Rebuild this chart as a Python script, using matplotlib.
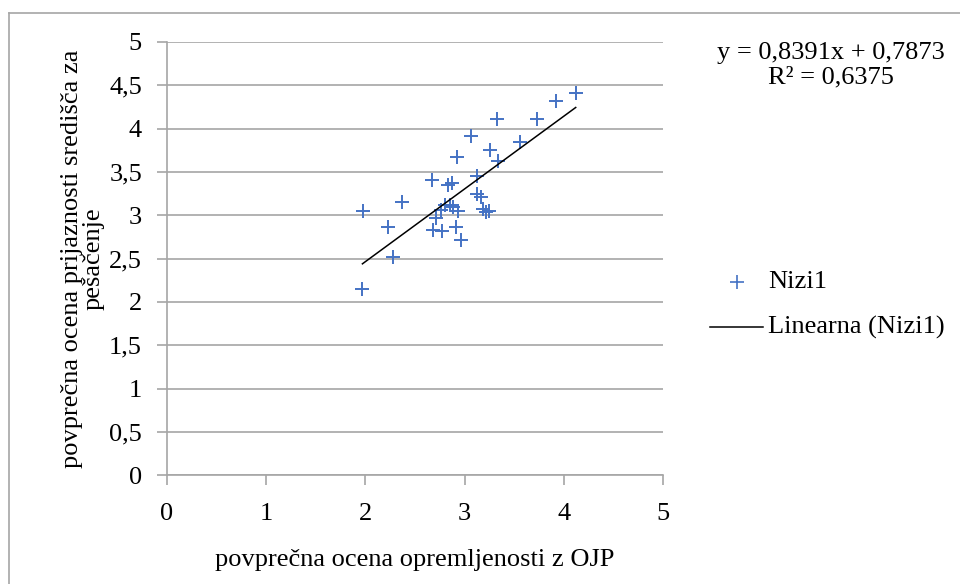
import matplotlib
matplotlib.use("Agg")
import matplotlib.pyplot as plt
import matplotlib.lines as mlines
import numpy as np

# values
ojp = [1.97, 1.98, 2.23, 2.28, 2.37, 2.67, 2.68, 2.71, 2.76, 2.77, 2.80,
       2.83, 2.85, 2.87, 2.88, 2.91, 2.92, 2.93, 2.96, 3.06, 3.13, 3.13,
       3.17, 3.19, 3.22, 3.25, 3.26, 3.33, 3.34, 3.56, 3.73, 3.92, 4.12]
ocena = [2.15, 3.05, 2.86, 2.52, 3.15, 3.41, 2.83, 2.97, 3.06, 2.82, 3.12,
         3.35, 3.12, 3.37, 3.10, 2.87, 3.67, 3.05, 2.71, 3.91, 3.45, 3.25,
         3.21, 3.07, 3.04, 3.05, 3.75, 4.11, 3.63, 3.85, 4.11, 4.32, 4.41]
slope = 0.8391
intercept = 0.7873
r2 = 0.6375
ticks = [0, 0.5, 1, 1.5, 2, 2.5, 3, 3.5, 4, 4.5, 5]
xticks = [0, 1, 2, 3, 4, 5]

plt.rcParams['font.family'] = ['Liberation Serif', 'DejaVu Serif']
FS = 19
BLUE = "#4472C4"
GRID = "#a6a6a6"

fig = plt.figure(figsize=(9.6, 5.84), dpi=100)
ax = fig.add_axes([167 / 960, 1 - 475.3 / 584, 496 / 960, 433.3 / 584])

ax.plot(ojp, ocena, '+', color=BLUE, markersize=9.5, markeredgewidth=1.4,
        linestyle='none', zorder=3)
xs = np.array([min(ojp), max(ojp)])
ax.plot(xs, slope * xs + intercept, color='black', lw=1.1, zorder=4)

ax.set_xlim(0, 5)
ax.set_ylim(0, 5)
ax.set_yticks(ticks)
ax.set_yticklabels([str(t).replace('.', ',') if t % 1 else str(int(t)) for t in ticks])
ax.set_xticks(xticks)
ax.set_xticklabels([str(t) for t in xticks])
ax.grid(True, axis='y', color=GRID, lw=1.2)
ax.set_axisbelow(True)
for s in ['top', 'right']:
    ax.spines[s].set_visible(False)
for s in ['left', 'bottom']:
    ax.spines[s].set_color(GRID)
    ax.spines[s].set_linewidth(1.2)
ax.tick_params(axis='both', direction='out', length=7, width=1.2, color=GRID,
               labelsize=FS)
ax.tick_params(axis='y', pad=11)
ax.tick_params(axis='x', pad=13)

ax.set_xlabel("povprečna ocena opremljenosti z OJP", fontsize=FS, va='center')
ax.xaxis.set_label_coords(0.5, (475.3 - 560) / 433.3)
ax.set_ylabel("povprečna ocena prijaznosti središča za\npešačenje", fontsize=FS,
              linespacing=1.0, va='center')
ax.yaxis.set_label_coords((83 - 167) / 496, 0.5)

# trendline equation
fig.text(831 / 960, 1 - 53 / 584, "y = 0,8391x + 0,7873", fontsize=FS,
         ha='center', va='center')
fig.text(831 / 960, 1 - 77 / 584, "R² = %s" % str(r2).replace('.', ','),
         fontsize=FS, ha='center', va='center')

# legend
fig.add_artist(mlines.Line2D([737 / 960], [1 - 282 / 584], marker='+',
                             color=BLUE, markersize=10, markeredgewidth=1.2,
                             linestyle='none'))
fig.text(768 / 960, 1 - 282 / 584, "Nizi1", fontsize=FS, va='center')
fig.add_artist(mlines.Line2D([710 / 960, 763 / 960], [1 - 327 / 584] * 2,
                             color='black', lw=1.1))
fig.text(768 / 960, 1 - 327 / 584, "Linearna (Nizi1)", fontsize=FS, va='center')

# chart frame (only top and left visible in the crop)
fig.add_artist(mlines.Line2D([9 / 960, 9 / 960], [0, 1 - 13 / 584], color=GRID, lw=1.2))
fig.add_artist(mlines.Line2D([9 / 960, 1], [1 - 13 / 584] * 2, color=GRID, lw=1.2))

fig.savefig("out.png", dpi=100)
